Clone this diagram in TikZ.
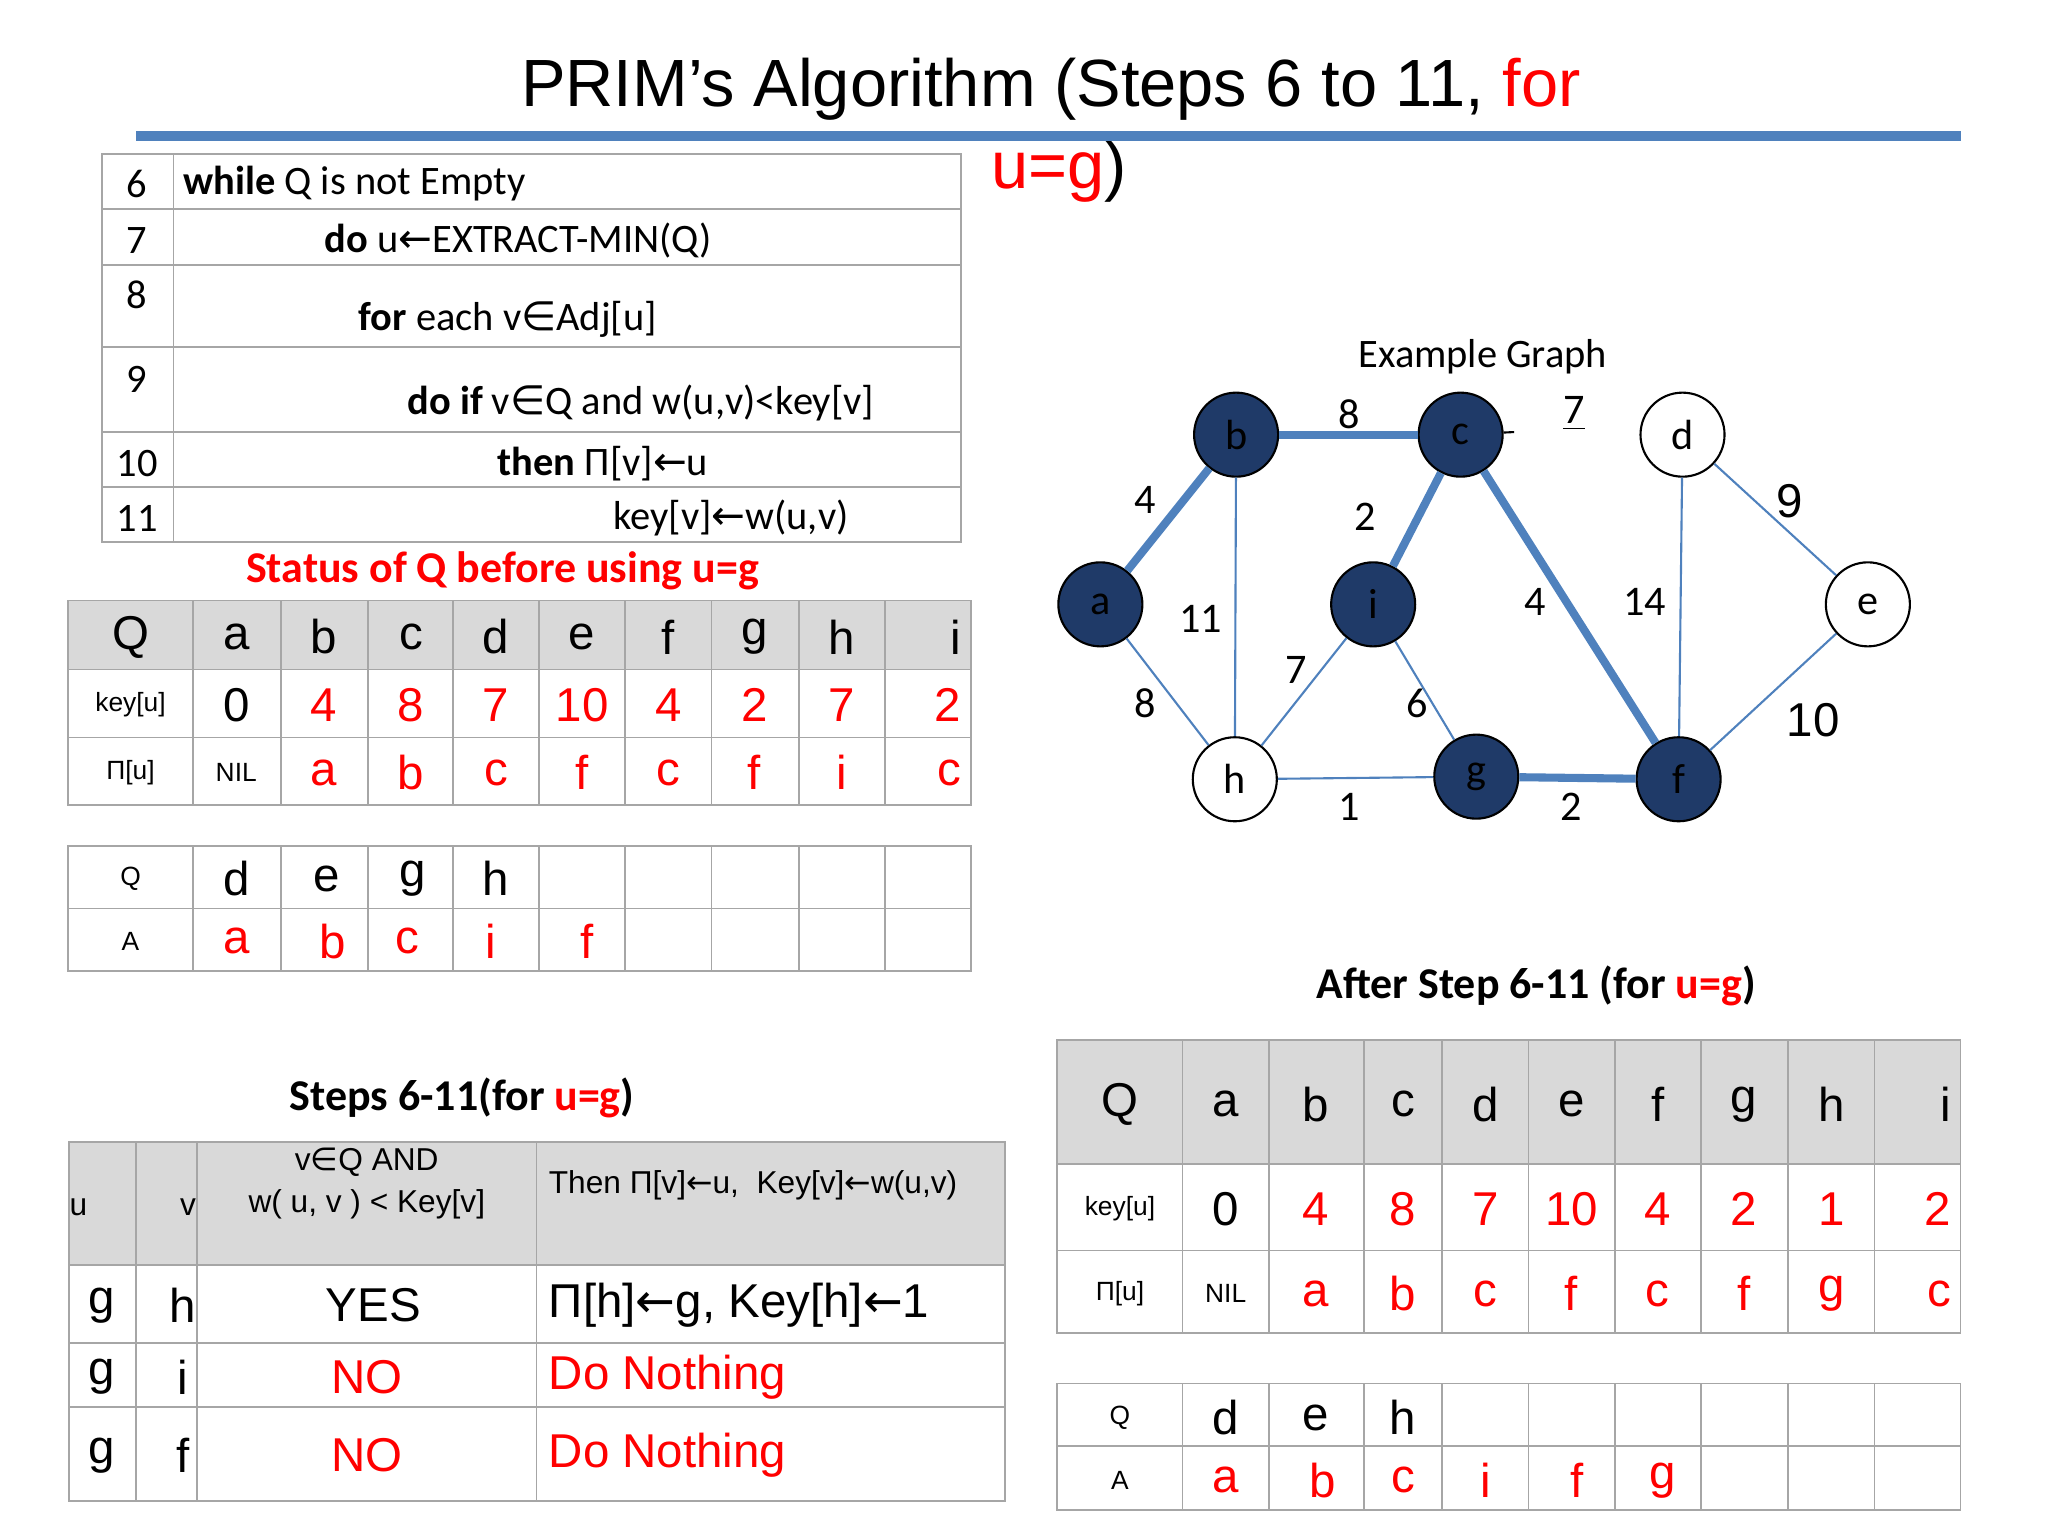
\documentclass[tikz,border=0pt]{standalone}
\usepackage{fontspec}
\setmainfont{Liberation Sans}
\newfontfamily\calfont{Carlito}
\newfontfamily\djfont{DejaVu Sans}
\newcommand{\ar}{{\djfont ←}}
\newcommand{\inn}{{\djfont ∈}}
\definecolor{navy}{HTML}{1F3A68}
\definecolor{eblue}{HTML}{4F81BD}
\definecolor{hdr}{HTML}{D9D9D9}
\begin{document}
\begin{tikzpicture}[x=0.01305cm,y=-0.01305cm,
  cell/.style={draw=gray!70,line width=0.5pt},
  big/.style={font=\fontsize{13.5}{14}\selectfont},
  sm/.style={font=\fontsize{7.5}{8}\selectfont},
  rd/.style={text=red},
  cb/.style={font=\calfont\fontsize{11.5}{13}\selectfont},
  vtx/.style={circle,draw=black,line width=0.6pt,minimum size=0.84cm,inner sep=0pt,font=\calfont\fontsize{12}{12}\selectfont},
  dk/.style={vtx,fill=navy},
  wt/.style={vtx,fill=white},
  thk/.style={eblue,line width=2.3pt},
  thn/.style={eblue,line width=0.6pt},
  wl/.style={font=\calfont\fontsize{12}{12}\selectfont}]
\useasboundingbox (0,0) rectangle (1569,1177);
% title
\node[font=\fontsize{19}{20}\selectfont] (t1) at (805,68) {PRIM’s Algorithm (Steps 6 to 11, \textcolor{red}{for}};
\node[font=\fontsize{19}{20}\selectfont,anchor=west] (t2) at (750,131) {\textcolor{red}{u=g})};
\fill[eblue] (104,100) rectangle (1502,108);
% pseudocode
\draw[cell] (78,118) rectangle (736,415);
\foreach \y in {160,203,266,331,373} \draw[cell] (78,\y) -- (736,\y);
\draw[cell] (133,118) -- (133,415);
\begin{scope}[every node/.style={cb}]
\node (n6) at (105,141) {6};
\node (n7) at (105,184) {7};
\node (n8) at (105,226) {8};
\node (n9) at (105,291) {9};
\node (n10) at (105,355) {10};
\node (n11) at (105,397) {11};
\node[anchor=west] (l6) at (131,141) {\textbf{while} Q is not Empty};
\node (l7) at (397,184) {\textbf{do} u\ar EXTRACT-MIN(Q)};
\node (l8) at (389,245) {\textbf{for} each v\inn Adj[u]};
\node (l9) at (491,309) {\textbf{do if} v\inn Q and w(u,v)<key[v]};
\node (l10) at (462,355) {\textbf{then} Π[v]\ar u};
\node (l11) at (560,397) {key[v]\ar w(u,v)};
\end{scope}
\node[cb,text=red,font=\calfont\bfseries\fontsize{12.5}{13}\selectfont] (st) at (385,437) {Status of Q before using u=g};
% table 1
\fill[hdr] (52,460) rectangle (744,513);
\draw[cell] (52,460) rectangle (744,617);
\foreach \y in {513,565} \draw[cell] (52,\y) -- (744,\y);
\foreach \x in {148,215,282,347,413,479,545,612,678} \draw[cell] (\x,460) -- (\x,617);
\foreach \x/\t [count=\k] in {100/Q,181/a,248/b,315/c,380/d,446/e,512/f,578/g,645/h} \node[big] (ha\k) at (\x,488) {\t};
\node[big,anchor=east] (hai) at (746,488) {i};
\node[sm] (k1) at (100,540) {key[u]};
\node[big] (k0) at (181,540) {0};
\foreach \x/\t [count=\k] in {248/4,315/8,380/7,446/10,512/4,578/2,645/7} \node[big,rd] (ka\k) at (\x,540) {\t};
\node[big,rd,anchor=east] (kai) at (746,540) {2};
\node[sm] (p1) at (100,592) {Π[u]};
\node[sm] (p0) at (181,592) {NIL};
\foreach \x/\t [count=\k] in {248/a,315/b,380/c,446/f,512/c,578/f,645/i} \node[big,rd] (pa\k) at (\x,592) {\t};
\node[big,rd,anchor=east] (pai) at (746,592) {c};
% table 2
\draw[cell] (52,648) rectangle (744,744);
\draw[cell] (52,696) -- (744,696);
\foreach \x in {148,215,282,347,413,479,545,612,678} \draw[cell] (\x,648) -- (\x,744);
\node[sm] (q2) at (100,673) {Q};
\foreach \x/\t [count=\k] in {181/d,250/e,316/g,380/h} \node[big] (qb\k) at (\x,673) {\t};
\node[sm] (a2) at (100,721) {A};
\foreach \x/\t [count=\k] in {181/a,255/b,312/c,376/i,450/f} \node[big,rd] (ab\k) at (\x,721) {\t};
% graph
\node[cb] (eg) at (1136,273) {Example Graph};
\node[dk] (b) at (947,333) {b};
\node[dk] (c) at (1119,333) {c};
\node[wt] (d) at (1289,333) {d};
\node[dk] (a) at (843,463) {a};
\node[dk] (i) at (1052,463) {i};
\node[wt] (e) at (1431,463) {e};
\node[wt] (h) at (946,597) {h};
\node[dk] (g) at (1131,595) {g};
\node[dk] (f) at (1286,597) {f};
\coordinate (cs) at (1160,331);
\draw[thn] (b) -- (h);
\draw[thn] (a) -- (h);
\draw[thn] (h) -- (i);
\draw[thn] (i) -- (g);
\draw[thn] (h) -- (g);
\draw[thn] (d) -- (f);
\draw[thn] (d) -- (e);
\draw[thn] (e) -- (f);
\draw[line width=0.6pt] (c) -- (cs);
\draw[thk] (a) -- (b);
\draw[thk] (b) -- (c);
\draw[thk] (c) -- (i);
\draw[thk] (c) -- (f);
\draw[thk] (g) -- (f);
\foreach \n/\x/\y/\t in {w1/1034/317/8,w3/877/383/4,w4/1046/396/2,w6/920/474/11,w7/993/513/7,w8/1176/461/4,w9/1260/461/14,w10/877/539/8,w11/1086/539/6,w13/1034/618/1,w14/1204/618/2}
  \node[wl] (\n) at (\x,\y) {\t};
\node[big] (w5) at (1371,384) {9};
\node[big] (w12) at (1389,552) {10};
\node[wl] (w2) at (1206,317) {\underline{7}};
% after step
\node[cb,font=\calfont\bfseries\fontsize{12.5}{13}\selectfont] (as) at (1177,755) {After Step 6-11 (for \textcolor{red}{u=g})};
\fill[hdr] (810,797) rectangle (1502,892);
\draw[cell] (810,797) rectangle (1502,1021);
\foreach \y in {892,958} \draw[cell] (810,\y) -- (1502,\y);
\foreach \x in {906,972,1045,1105,1171,1237,1303,1370,1436} \draw[cell] (\x,797) -- (\x,1021);
\foreach \x/\t [count=\k] in {858/Q,939/a,1008/b,1075/c,1138/d,1204/e,1270/f,1336/g,1403/h} \node[big] (hc\k) at (\x,846) {\t};
\node[big,anchor=east] (hci) at (1504,846) {i};
\node[sm] (k3) at (858,926) {key[u]};
\node[big] (k30) at (939,926) {0};
\foreach \x/\t [count=\k] in {1008/4,1075/8,1138/7,1204/10,1270/4,1336/2,1403/1} \node[big,rd] (kc\k) at (\x,926) {\t};
\node[big,rd,anchor=east] (kci) at (1504,926) {2};
\node[sm] (p3) at (858,991) {Π[u]};
\node[sm] (p30) at (939,991) {NIL};
\foreach \x/\t [count=\k] in {1008/a,1075/b,1138/c,1204/f,1270/c,1336/f,1403/g} \node[big,rd] (pc\k) at (\x,991) {\t};
\node[big,rd,anchor=east] (pci) at (1504,991) {c};
\draw[cell] (810,1060) rectangle (1502,1157);
\draw[cell] (810,1108) -- (1502,1108);
\foreach \x in {906,972,1045,1105,1171,1237,1303,1370,1436} \draw[cell] (\x,1060) -- (\x,1157);
\node[sm] (q4) at (858,1086) {Q};
\foreach \x/\t [count=\k] in {939/d,1008/e,1075/h} \node[big] (qd\k) at (\x,1086) {\t};
\node[sm] (a4) at (858,1134) {A};
\foreach \x/\t [count=\k] in {939/a,1013/b,1075/c,1138/i,1208/f,1274/g} \node[big,rd] (ad\k) at (\x,1134) {\t};
% steps table
\node[cb,font=\calfont\bfseries\fontsize{12.5}{13}\selectfont] (ss) at (354,841) {Steps 6-11(for \textcolor{red}{u=g})};
\fill[hdr] (53,875) rectangle (770,969);
\draw[cell] (53,875) rectangle (770,1150);
\foreach \y in {969,1029,1078} \draw[cell] (53,\y) -- (770,\y);
\foreach \x in {104,151,411} \draw[cell] (\x,875) -- (\x,1150);
\node[font=\fontsize{9}{10}\selectfont] (hu) at (60,925) {u};
\node[font=\fontsize{9}{10}\selectfont] (hv) at (144,925) {v};
\node[font=\fontsize{9}{10}\selectfont,align=center] (hq) at (281,907) {v\inn Q AND\\[2pt] w( u, v ) < Key[v]};
\node[font=\fontsize{9}{10}\selectfont,anchor=west] (ht) at (411,908) {Then Π[v]\ar u,\ \ Key[v]\ar w(u,v)};
\foreach \y/\v/\k in {1000/h/1,1055/i/2,1115/f/3} {
  \node[big] (ru\k) at (78,\y) {g};
  \node[big] (rv\k) at (140,\y) {\v};
}
\node[big] (r1) at (286,1000) {YES};
\node[big,anchor=west] (r1t) at (411,1000) {Π[h]\ar g, Key[h]\ar 1};
\node[big,rd] (r2) at (281,1055) {NO};
\node[big,rd,anchor=west] (r2t) at (411,1055) {Do Nothing};
\node[big,rd] (r3) at (281,1115) {NO};
\node[big,rd,anchor=west] (r3t) at (411,1115) {Do Nothing};
\end{tikzpicture}
\end{document}
